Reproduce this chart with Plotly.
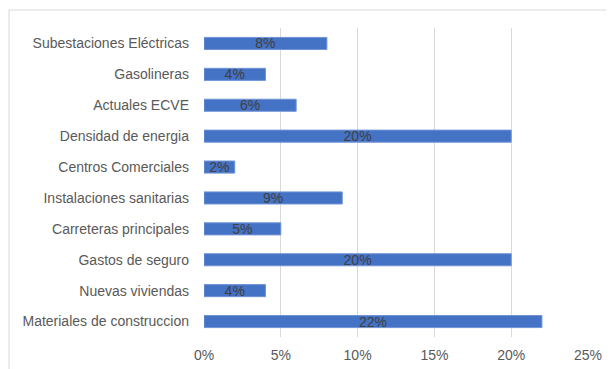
import plotly.graph_objects as go

categories = ["Subestaciones Eléctricas", "Gasolineras", "Actuales ECVE", "Densidad de energia",
              "Centros Comerciales", "Instalaciones sanitarias", "Carreteras principales",
              "Gastos de seguro", "Nuevas viviendas", "Materiales de construccion"]
values = [0.08, 0.04, 0.06, 0.20, 0.02, 0.09, 0.05, 0.20, 0.04, 0.22]
tick_vals = [0, 0.05, 0.10, 0.15, 0.20, 0.25]
tick_text = ["0%", "5%", "10%", "15%", "20%", "25%"]

# The page body has an 8px margin, so the figure is drawn at (8, 8)
W, H = 606, 361
ML, MR, MT, MB = 196, 26, 20, 32
PW, PH = W - ML - MR, H - MT - MB

fig = go.Figure(go.Bar(
    x=values, y=categories, orientation="h",
    marker=dict(color="#4472C4", line=dict(color="#6f93d6", width=1)),
    text=[f"{v*100:.0f}%" for v in values], textposition="inside",
    insidetextanchor="middle",
    textfont=dict(color="#404040", size=14, family="Liberation Sans"),
    constraintext="none",
))

fx = -(ML - 1) / PW
fy = 1 + (MT - 2) / PH
fig.update_layout(
    width=W, height=H,
    margin=dict(l=ML, r=MR, t=MT, b=MB),
    paper_bgcolor="white", plot_bgcolor="white",
    bargap=0.61,
    showlegend=False,
    font=dict(family="Liberation Sans", size=14, color="#595959"),
    shapes=[
        dict(type="line", xref="paper", yref="paper", x0=fx, x1=1.2, y0=fy, y1=fy,
             line=dict(color="#d9d9d9", width=1)),
        dict(type="line", xref="paper", yref="paper", x0=fx, x1=fx, y0=fy, y1=-0.2,
             line=dict(color="#d9d9d9", width=1)),
    ],
)
fig.update_xaxes(range=[0, 0.25], tickvals=tick_vals, ticktext=tick_text,
                 showgrid=True, gridcolor="#d9d9d9", gridwidth=1, zeroline=False,
                 showline=False, ticks="", ticklabelstandoff=8, automargin=False,
                 fixedrange=True)
fig.update_yaxes(autorange="reversed", showgrid=False, showline=False, ticks="",
                 ticklabelstandoff=14, automargin=False, fixedrange=True)

fig.write_html("out.html")
